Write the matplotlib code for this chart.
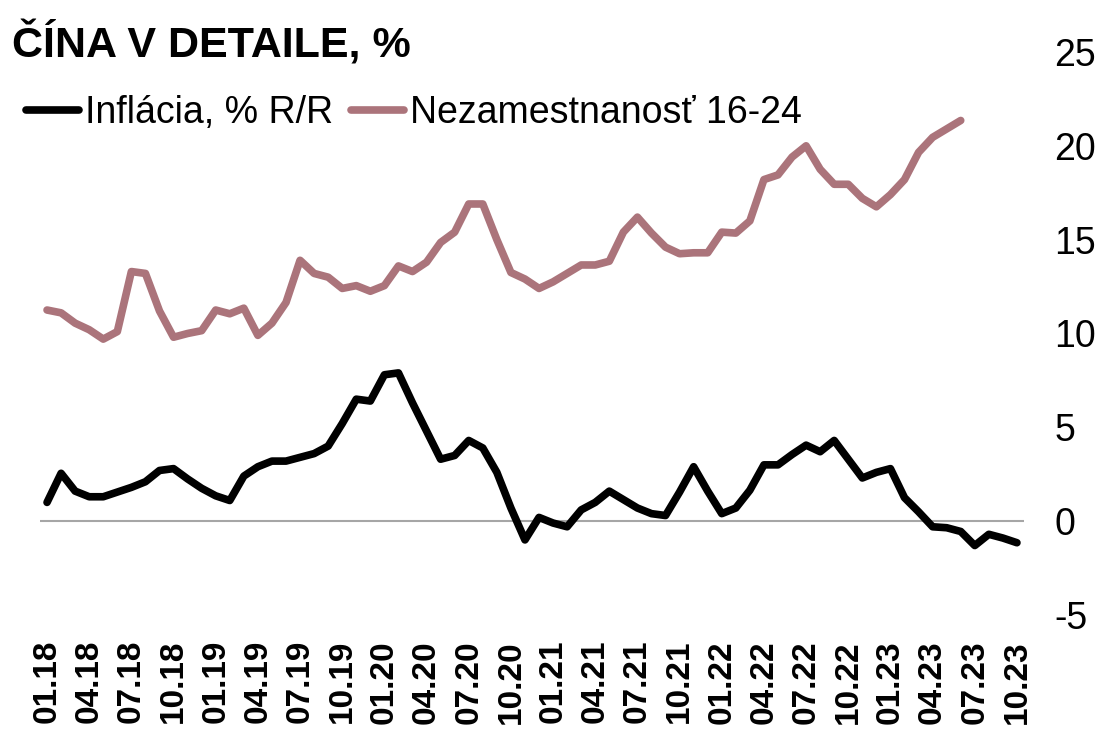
import numpy as np
import matplotlib
matplotlib.use("Agg")
import matplotlib.pyplot as plt

plt.rcParams['font.family'] = ['Liberation Sans', 'DejaVu Sans']

TITLE = "ČÍNA V DETAILE, %"
infl_label = "Inflácia, % R/R"
unemp_label = "Nezamestnanosť 16-24"

# monthly, 01.18 - 10.23
inflation = [1.0, 2.55, 1.6, 1.3, 1.3, 1.55, 1.8, 2.1, 2.7, 2.8, 2.25, 1.75,
             1.35, 1.1, 2.4, 2.9, 3.2, 3.2, 3.4, 3.6, 4.0, 5.2, 6.5, 6.4,
             7.8, 7.9, 6.3, 4.8, 3.3, 3.5, 4.3, 3.9, 2.6, 0.7, -1.0, 0.2,
             -0.1, -0.3, 0.6, 1.0, 1.6, 1.15, 0.7, 0.4, 0.3, 1.55, 2.9, 1.6,
             0.4, 0.7, 1.65, 3.0, 3.0, 3.55, 4.05, 3.7, 4.3, 3.3, 2.3, 2.6,
             2.8, 1.25, 0.5, -0.3, -0.35, -0.55, -1.3, -0.7, -0.9, -1.15]

# monthly, 01.18 - 06.23
unemployment = [11.25, 11.1, 10.55, 10.2, 9.7, 10.1, 13.3, 13.2, 11.2, 9.8, 10.0, 10.15,
                11.25, 11.05, 11.35, 9.9, 10.55, 11.65, 13.9, 13.2, 13.0, 12.4, 12.55, 12.25,
                12.55, 13.6, 13.3, 13.8, 14.85, 15.4, 16.9, 16.9, 15.0, 13.25, 12.9, 12.4,
                12.75, 13.2, 13.65, 13.65, 13.85, 15.4, 16.2, 15.35, 14.6, 14.25, 14.3, 14.3,
                15.4, 15.35, 16.0, 18.2, 18.45, 19.4, 20.0, 18.75, 17.95, 17.95, 17.2, 16.75,
                17.4, 18.2, 19.65, 20.45, 20.9, 21.35]

months = [f"{m:02d}.{y}" for y in range(18, 24) for m in range(1, 13)][:len(inflation)]
tick_labels = months[::3]
y_ticks = [-5, 0, 5, 10, 15, 20, 25]

fig = plt.figure(figsize=(11.02, 7.31), dpi=100)
ax = fig.add_axes([0.0363, 0.1587, 0.8929, 0.7702])

x1 = np.arange(len(inflation))
x2 = np.arange(len(unemployment))
l1, = ax.plot(x1, inflation, color='black', lw=5.5, solid_capstyle='round',
              solid_joinstyle='round', label=infl_label, zorder=3)
l2, = ax.plot(x2, unemployment, color='#AB747B', lw=5.5, solid_capstyle='round',
              solid_joinstyle='round', label=unemp_label, zorder=3)
ax.axhline(0, color='#A6A6A6', lw=1.5, zorder=1)

ax.set_xlim(-0.5, len(inflation) - 0.5)
ax.set_ylim(-5, 25)
ax.set_xticks(x1[::3])
ax.set_xticklabels(tick_labels, rotation=90, fontsize=24, fontweight='bold')
ax.set_yticks(y_ticks)
ax.set_yticklabels([str(v) for v in y_ticks], fontsize=27)
ax.yaxis.tick_right()
ax.tick_params(axis='y', length=0, pad=22)
ax.tick_params(axis='x', length=0, pad=18)
for s in ax.spines.values():
    s.set_visible(False)

fig.text(0.011, 0.922, TITLE, fontsize=31, fontweight='bold', va='baseline')

fig.legend(handles=[l1, l2], loc='center left', bbox_to_anchor=(0.024, 1 - 113 / 731),
           ncol=2, frameon=False, fontsize=27, handlelength=1.4, handletextpad=0.15,
           columnspacing=0.5, borderpad=0, borderaxespad=0)

fig.savefig("out.png", dpi=100)
